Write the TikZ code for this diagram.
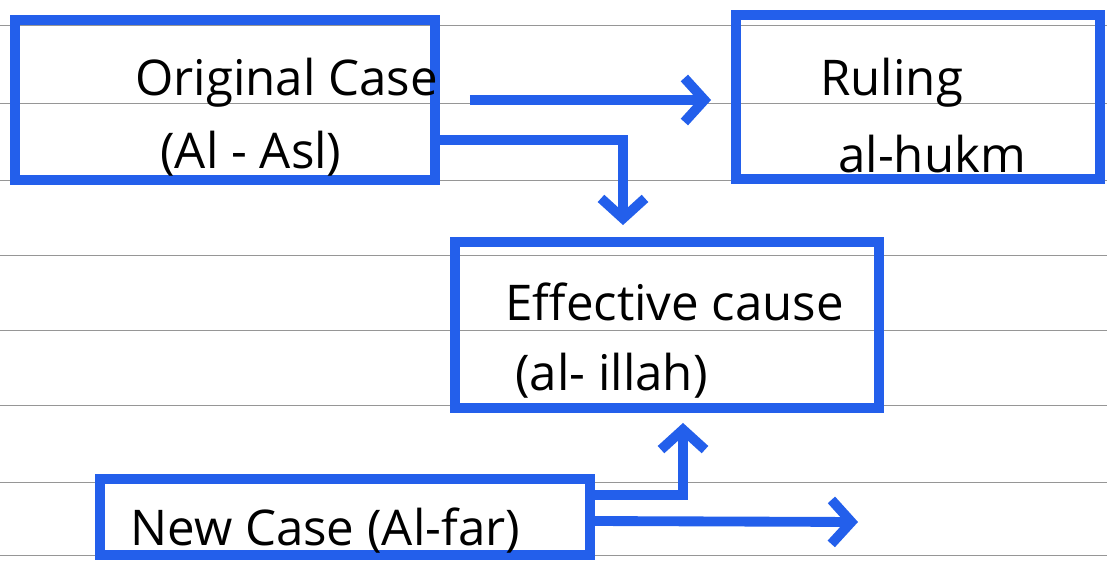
\documentclass[tikz,border=0pt]{standalone}
\usepackage{fontspec}
\setmainfont{Open Sans}
\usetikzlibrary{arrows.meta,positioning}
\definecolor{pen}{RGB}{35,95,235}
\definecolor{rule}{RGB}{150,150,150}
\tikzstyle{block} = [draw=pen, line width=7pt, rectangle, inner sep=0pt]
\tikzstyle{lbl} = [anchor=base west, inner sep=0pt, font=\fontsize{35}{42}\selectfont]
\tikzstyle{flow} = [draw=pen, line width=7pt, -{Straight Barb[length=5mm,width=11mm]}]

\begin{document}
\begin{tikzpicture}[x=0.025cm,y=-0.025cm]
  \useasboundingbox (0,0) rectangle (1107,561);
  % ruled paper
  \foreach \ry in {25,103,180,255,330,405,482,555}
    \draw [rule, line width=0.6pt] (0,\ry) -- (1107,\ry);

  \node [block, minimum width=10.5cm, minimum height=4cm] (orig) at (225,100) {};
  \node [block, minimum width=9.1cm, minimum height=4.1cm] (ruling) at (918,97) {};
  \node [block, minimum width=10.6cm, minimum height=4.15cm] (eff) at (667,325) {};
  \node [block, minimum width=12.25cm, minimum height=1.9cm] (new) at (345,517) {};

  \node [lbl] (origA) at (135,95) {Original Case};
  \node [lbl] (origB) at (160,168) {(Al - Asl)};
  \node [lbl] (rulA) at (820,95) {Ruling};
  \node [lbl] (rulB) at (838,172) {al-hukm};
  \node [lbl] (effA) at (505,320) {Effective cause};
  \node [lbl] (effB) at (515,390) {(al- illah)};
  \node [lbl] (newA) at (130,545) {New Case (Al-far)};

  \coordinate (farEnd) at (858,522);

  \draw [flow, shorten <=0.75cm, shorten >=0.5cm] (orig.east) -- (orig.east -| ruling.west);
  \draw [flow, shorten >=0.3cm] ([yshift=-1cm]orig.east) -| ([xshift=-1.1cm]eff.north);
  \draw [flow, shorten >=0.25cm] ([yshift=0.55cm]new.east) -| ([xshift=0.4cm]eff.south);
  \draw [flow] ([yshift=-0.1cm]new.east) -- (farEnd);
\end{tikzpicture}
\end{document}
